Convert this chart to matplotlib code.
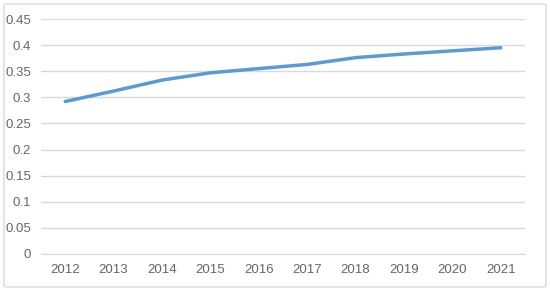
import matplotlib
matplotlib.use("Agg")
import matplotlib.pyplot as plt
from matplotlib.patches import FancyBboxPatch

years = ["2012", "2013", "2014", "2015", "2016", "2017", "2018", "2019", "2020", "2021"]
values = [0.292, 0.312, 0.333, 0.347, 0.355, 0.363, 0.376, 0.383, 0.389, 0.395]
yticks = [0, 0.05, 0.1, 0.15, 0.2, 0.25, 0.3, 0.35, 0.4, 0.45]
ytick_labels = ["0", "0.05", "0.1", "0.15", "0.2", "0.25", "0.3", "0.35", "0.4", "0.45"]

plt.rcParams['font.family'] = ['Liberation Sans', 'DejaVu Sans']

fig = plt.figure(figsize=(5.5, 2.91), dpi=100)
ax = fig.add_axes([41/550, 1-254/291, 484/550, (254-19)/291])

x = list(range(len(years)))
ax.plot(x, values, color="#5B9BD5", lw=2.5, solid_capstyle="round", solid_joinstyle="round", zorder=3)

ax.set_xlim(-0.5, len(years)-0.5)
ax.set_ylim(0, 0.45)
ax.set_yticks(yticks)
ax.set_yticklabels(ytick_labels)
ax.set_xticks(x)
ax.set_xticklabels(years)
ax.grid(axis="y", color="#D9D9D9", lw=1)
ax.set_axisbelow(True)
for s in ["top", "right", "left"]:
    ax.spines[s].set_visible(False)
ax.spines["bottom"].set_color("#D9D9D9")
ax.tick_params(axis="both", length=0, colors="#666666", labelsize=9.5)
ax.tick_params(axis="y", pad=7)
ax.tick_params(axis="x", pad=7)

border = FancyBboxPatch((4/550, 4/291), 542/550, 283/291, boxstyle="round,pad=0,rounding_size=0.005",
                        transform=fig.transFigure, fill=False, edgecolor="#D9D9D9", lw=1)
fig.patches.append(border)

fig.savefig("out.png", dpi=100)
